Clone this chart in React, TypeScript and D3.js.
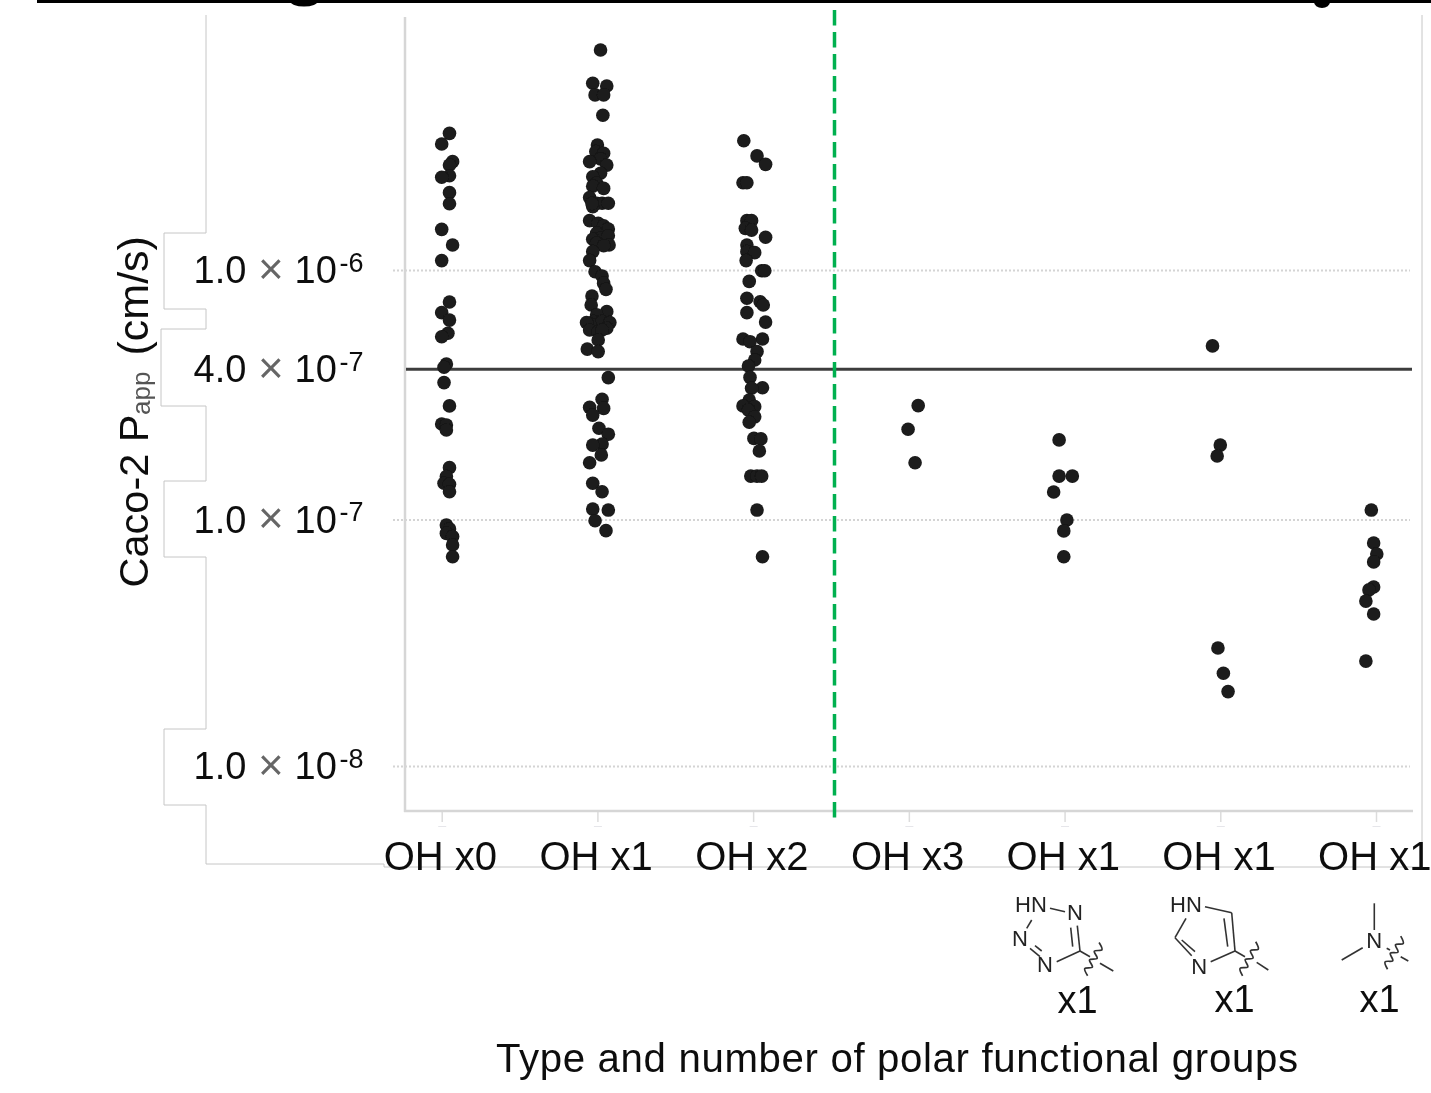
import React, { useEffect, useRef } from "react";
import * as d3 from "d3";

const WIDTH = 1431;
const HEIGHT = 1093;

const categories = ["OH x0", "OH x1", "OH x2", "OH x3", "OH x1", "OH x1", "OH x1"];
const yTickValues = [1e-6, 4e-7, 1e-7, 1e-8];
const gridValues = [1e-6, 1e-7, 1e-8];
const yTickMantissa = ["1.0", "4.0", "1.0", "1.0"];
const yTickExponent = ["-6", "-7", "-7", "-8"];
const threshold = 4e-7;

// [jitter in 1/100 of a category, log10 Papp]
const ohX0 = [
  [5, -5.447], [0, -5.49], [7, -5.561], [5, -5.575], [5, -5.618], [0, -5.624], [5, -5.686], [5, -5.731],
  [0, -5.834], [7, -5.897], [0, -5.96], [5, -6.127], [0, -6.17], [5, -6.2], [4, -6.253], [0, -6.267],
  [3, -6.377], [1.5, -6.39], [1.5, -6.452], [5, -6.546], [0, -6.619], [3, -6.623], [3, -6.643], [5, -6.795],
  [3, -6.831], [1.5, -6.858], [5, -6.862], [5, -6.892], [3, -7.026], [5, -7.042], [3, -7.06], [7, -7.073],
  [7, -7.107], [7, -7.154],
];
const ohX1 = [
  [2, -5.111], [-3, -5.245], [6, -5.256], [-1.5, -5.292], [4, -5.292], [3.5, -5.374], [0, -5.494], [-1, -5.52],
  [4, -5.527], [2, -5.55], [-5, -5.561], [6, -5.575], [2, -5.608], [-3, -5.622], [-0.5, -5.648], [-3, -5.66],
  [4, -5.669], [-5, -5.706], [-0.5, -5.729], [3, -5.729], [7, -5.729], [-3, -5.743], [-3.5, -5.73], [-5, -5.799],
  [0.5, -5.81], [4, -5.82], [7, -5.833], [-0.5, -5.85], [4, -5.87], [2, -5.87], [7, -5.86], [-3, -5.874],
  [-0.5, -5.89], [7.5, -5.897], [4, -5.9], [-3, -5.924], [-5, -5.96], [-1.5, -6.005], [3, -6.022], [4, -6.052],
  [5.5, -6.076], [-3.5, -6.103], [-4, -6.139], [6, -6.166], [-0.5, -6.179], [-2.5, -6.206], [3, -6.206], [-5, -6.215],
  [-7, -6.21], [8, -6.21], [6, -6.233], [-5, -6.24], [0.5, -6.247], [3, -6.24], [0.5, -6.28], [-6.5, -6.317],
  [0.5, -6.327], [7, -6.432], [3, -6.519], [-5, -6.552], [4, -6.556], [-3, -6.583], [1, -6.636], [7, -6.66],
  [3, -6.7], [-3, -6.704], [2.5, -6.744], [-5, -6.775], [-3, -6.858], [3, -6.892], [-3, -6.962], [7, -6.966],
  [-1.5, -7.009], [5.5, -7.049],
];
const ohX2 = [
  [-6, -5.477], [2.5, -5.538], [8, -5.572], [-6.5, -5.646], [-4, -5.646], [-4, -5.799], [-1, -5.799], [-5, -5.83],
  [-1, -5.837], [8, -5.866], [-4, -5.897], [-4, -5.924], [1, -5.928], [-4.5, -5.96], [5.5, -6.001], [7.5, -6.001],
  [-2.5, -6.044], [-4, -6.112], [4.5, -6.126], [6.5, -6.139], [-4, -6.17], [8, -6.208], [-6.5, -6.276], [6, -6.276],
  [-2, -6.287], [2.5, -6.327], [1, -6.361], [-3, -6.385], [-2, -6.431], [6, -6.473], [-1, -6.475], [-2.5, -6.522],
  [-6.5, -6.546], [1, -6.549], [-3, -6.563], [1, -6.59], [-2.5, -6.612], [0.5, -6.677], [5, -6.679], [4, -6.728],
  [-1.5, -6.829], [2.5, -6.829], [5.5, -6.829], [2.5, -6.966], [6, -7.154],
];
const ohX3 = [[6, -6.545], [-0.5, -6.64], [4, -6.775]];
const tetrazole = [[-3.5, -6.683], [-3.5, -6.829], [5, -6.829], [-7, -6.893], [1.5, -7.006], [-0.5, -7.05], [-0.5, -7.154]];
const imidazole = [[-5, -6.304], [0, -6.704], [-2, -6.748], [-1.5, -7.522], [2, -7.624], [5, -7.698]];
const dimethylamine = [
  [-3, -6.966], [-1.5, -7.099], [0.5, -7.143], [-1.5, -7.175], [-1.5, -7.276], [-4.5, -7.288], [-6.5, -7.333],
  [-1.5, -7.385], [-6.5, -7.575],
];
const groups = [ohX0, ohX1, ohX2, ohX3, tetrazole, imidazole, dimethylamine];

// hand drawn chemical structures under the axis
const structureBonds = [
  [1050, 908.3, 1065, 911.7], [1031.7, 920, 1026.7, 928.3], [1030, 948.3, 1040, 956.7], [1035, 945.7, 1041.7, 951],
  [1056.7, 961.7, 1080, 951], [1080, 951, 1077.3, 925.7], [1072.7, 946.7, 1070.7, 927.7], [1080, 951, 1090, 956.7],
  [1100, 963.3, 1113.3, 971],
  [1205, 906.7, 1231.7, 912.7], [1231.7, 912.7, 1235, 951], [1224, 918.3, 1227.7, 946.7], [1186, 918.3, 1175, 937.7],
  [1175, 937.7, 1191.7, 955.7], [1181.7, 940, 1195, 951.7], [1210.7, 961.7, 1235, 951], [1235, 951, 1245, 956.7],
  [1256.7, 962.3, 1268.3, 970],
  [1374.3, 903.3, 1374.3, 930], [1362.7, 947.7, 1341.7, 960], [1386.7, 948.3, 1390, 950], [1400.7, 956.7, 1408.3, 961],
];
const structureWaves = [
  [1101.7, 944, 1085, 974.3],
  [1258.3, 943.3, 1240, 974.3],
  [1403.3, 937.7, 1385, 967.7],
];
const structureAtoms = [
  ["HN", 1031, 912], ["N", 1075, 920], ["N", 1020, 946], ["N", 1045, 972],
  ["HN", 1186, 912], ["N", 1199.3, 973.5],
  ["N", 1374.3, 948],
];
const structureCounts = [["x1", 1057.5, 1013], ["x1", 1214.5, 1012], ["x1", 1359.5, 1012]];

const frameLeft = [
  [206, 15], [206, 233], [164, 233], [164, 309], [206, 309], [206, 329], [161, 329], [161, 406], [206, 406],
  [206, 481], [164, 481], [164, 557], [206, 557], [206, 729], [164, 729], [164, 805], [206, 805], [206, 864],
  [384, 864], [384, 867], [1422, 867], [1422, 15],
];

const FONT = "'Liberation Sans', Arial, sans-serif";

const App = () => {
  const ref = useRef<SVGSVGElement | null>(null);

  useEffect(() => {
    const svg = d3.select(ref.current);
    svg.selectAll("*").remove();

    const x = d3.scaleLinear().domain([0, 6]).range([441.7, 1376]);
    const y = d3.scaleLog().domain([1e-8, 1e-6]).range([766.5, 270.5]);
    // the printed 1e-7 gridline sits a bit below its true log position
    const yAxis = d3.scaleLog().domain([1e-8, 1e-7, 1e-6]).range([766.5, 520, 270.5]);

    svg.append("defs").append("filter").attr("id", "soft")
      .attr("x", "-5%").attr("y", "-5%").attr("width", "110%").attr("height", "110%")
      .append("feGaussianBlur").attr("stdDeviation", 0.45);

    const root = svg.append("g").attr("font-family", FONT).attr("filter", "url(#soft)");

    // clipped title remains at the very top
    root.append("rect").attr("x", 37).attr("y", 0).attr("width", WIDTH - 37).attr("height", 3).attr("fill", "#000");
    root.append("ellipse").attr("cx", 304).attr("cy", 1).attr("rx", 14).attr("ry", 5.5).attr("fill", "#000");
    root.append("ellipse").attr("cx", 1322).attr("cy", 2).attr("rx", 8).attr("ry", 6).attr("fill", "#000");

    // outer outline from the source figure
    root.append("path")
      .attr("d", d3.line()(frameLeft as [number, number][]))
      .attr("fill", "none").attr("stroke", "#c6c6c6").attr("stroke-width", 1);

    // grid
    root.append("g").selectAll("line").data(gridValues).join("line")
      .attr("x1", 393).attr("x2", 1410)
      .attr("y1", d => yAxis(d)).attr("y2", d => yAxis(d))
      .attr("stroke", "#d4d4d4").attr("stroke-width", 2).attr("stroke-dasharray", "2 2");

    // axes
    root.append("line").attr("x1", 405).attr("x2", 405).attr("y1", 17).attr("y2", 812)
      .attr("stroke", "#d6d6d6").attr("stroke-width", 2.5);

    const xAxis = d3.axisBottom(x)
      .tickValues(d3.range(categories.length))
      .tickFormat(i => categories[i as number])
      .tickSize(11).tickPadding(19.5);
    const xG = root.append("g").attr("transform", "translate(0,811)").call(xAxis);
    xG.select(".domain").remove();
    xG.selectAll(".tick line").attr("stroke", "#dcdcdc").attr("stroke-width", 1.5);
    xG.selectAll(".tick text").attr("font-size", 40).attr("font-family", FONT).attr("fill", "#111").attr("dx", -1.8);
    // faint dash below each tick
    xG.selectAll(".tick").append("rect")
      .attr("x", -4).attr("y", 15).attr("width", 8).attr("height", 1).attr("fill", "#e6e6ea");
    root.append("line").attr("x1", 404).attr("x2", 1413).attr("y1", 811).attr("y2", 811)
      .attr("stroke", "#d6d6d6").attr("stroke-width", 2.5);

    // y tick labels, mantissa x 10^exp
    const yLabels = root.append("g").selectAll("g").data(yTickValues).join("g")
      .attr("transform", d => `translate(0,${yAxis(d)})`);
    yLabels.append("text").attr("x", 193.5).attr("y", 12.5).attr("font-size", 38).attr("fill", "#111")
      .text((_, i) => yTickMantissa[i]);
    yLabels.append("text").attr("x", 258).attr("y", 13).attr("font-size", 44).attr("fill", "#666").text("×");
    yLabels.append("text").attr("x", 294.5).attr("y", 12.5).attr("font-size", 38).attr("fill", "#111").text("10");
    yLabels.append("text").attr("x", 339.5).attr("y", 1).attr("font-size", 27).attr("fill", "#111")
      .text((_, i) => yTickExponent[i]);

    // y title
    const yTitle = root.append("g").attr("transform", "translate(148,587.5) rotate(-90)").attr("fill", "#111");
    yTitle.append("text").attr("font-size", 41.5).text("Caco-2 P");
    yTitle.append("text").attr("x", 172.5).attr("y", 2).attr("font-size", 26).attr("fill", "#555").text("app");
    yTitle.append("text").attr("x", 232).attr("font-size", 43).text("(cm/s)");

    // threshold + separator
    root.append("line").attr("x1", 406).attr("x2", 1412).attr("y1", y(threshold)).attr("y2", y(threshold))
      .attr("stroke", "#3d3d3d").attr("stroke-width", 3);
    root.append("line").attr("x1", 834.5).attr("x2", 834.5).attr("y1", 10).attr("y2", 818)
      .attr("stroke", "#00b050").attr("stroke-width", 3.5).attr("stroke-dasharray", "15.5 6.5");

    // points
    const points = groups.flatMap((g, i) => g.map(([j, logP]) => ({ i, j, logP })));
    root.append("g").selectAll("circle").data(points).join("circle")
      .attr("cx", d => x(d.i + d.j / 100))
      .attr("cy", d => y(Math.pow(10, d.logP)))
      .attr("r", 6.8).attr("fill", "#1a1a1a");

    // structures
    const chem = root.append("g").attr("fill", "#222");
    chem.selectAll("line").data(structureBonds).join("line")
      .attr("x1", d => d[0]).attr("y1", d => d[1]).attr("x2", d => d[2]).attr("y2", d => d[3])
      .attr("stroke", "#333").attr("stroke-width", 1.6);
    const wave = d3.line().curve(d3.curveCatmullRom);
    chem.selectAll("path").data(structureWaves).join("path")
      .attr("fill", "none").attr("stroke", "#333").attr("stroke-width", 1.7)
      .attr("d", ([x0, y0, x1, y1]) => {
        const dx = x1 - x0, dy = y1 - y0;
        const len = Math.hypot(dx, dy);
        const nx = -dy / len, ny = dx / len;
        const pts = d3.range(0, 8).map(k => {
          const t = k / 7;
          const off = k % 2 === 0 ? 3 : -3;
          return [x0 + dx * t + nx * off, y0 + dy * t + ny * off] as [number, number];
        });
        return wave(pts);
      });
    chem.selectAll("text.atom").data(structureAtoms).join("text").attr("class", "atom")
      .attr("x", d => d[1] as number).attr("y", d => d[2] as number)
      .attr("text-anchor", "middle").attr("font-size", 22).text(d => d[0] as string);
    root.append("g").selectAll("text").data(structureCounts).join("text")
      .attr("x", d => d[1] as number).attr("y", d => d[2] as number)
      .attr("font-size", 38).attr("fill", "#111").text(d => d[0] as string);

    // x title
    root.append("text").attr("x", 496).attr("y", 1071.5).attr("font-size", 40.2).attr("fill", "#111")
      .attr("textLength", 802).attr("lengthAdjust", "spacing")
      .text("Type and number of polar functional groups");
  }, []);

  return (
    <svg
      ref={ref}
      width={WIDTH}
      height={HEIGHT}
      style={{ position: "absolute", left: 0, top: 0, display: "block", background: "#fff" }}
    />
  );
};

export default App;
